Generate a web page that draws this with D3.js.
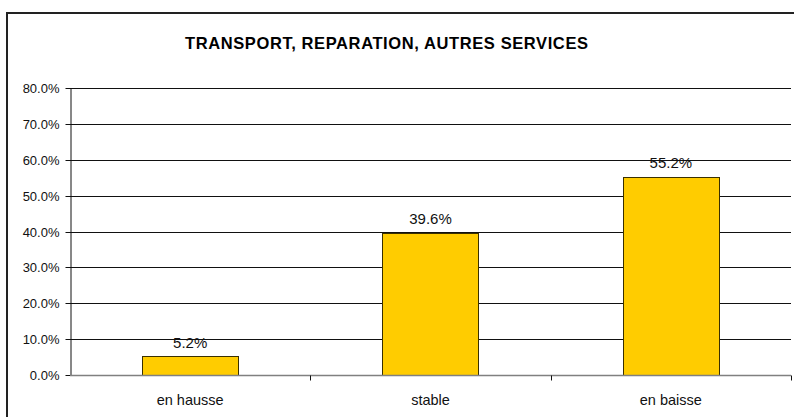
<!DOCTYPE html>
<html><head><meta charset="utf-8">
<script src="https://cdn.jsdelivr.net/npm/d3@7"></script>
<style>body{margin:0;background:#fff}svg{display:block}text{font-family:"Liberation Sans",Arial,sans-serif}</style>
</head><body><svg id="c" width="794" height="417"></svg>
<script>
const categories = ["en hausse", "stable", "en baisse"];
const values = [5.2, 39.6, 55.2];
const yTicks = [0, 10, 20, 30, 40, 50, 60, 70, 80];
const title = "TRANSPORT, REPARATION, AUTRES SERVICES";

const svg = d3.select("#c");
svg.append("rect").attr("x", 7).attr("y", 13).attr("width", 820).attr("height", 440)
  .attr("fill", "#fff").attr("stroke", "#222").attr("stroke-width", 2);

const m = {left: 70, right: 791, top: 88, bottom: 375};
const x = d3.scaleBand().domain(categories).range([m.left, m.right]).paddingInner(0.6).paddingOuter(0.3);
const y = d3.scaleLinear().domain([0, 80]).range([m.bottom, m.top]);

svg.append("text").attr("x", 386.5).attr("y", 49).attr("text-anchor", "middle")
  .attr("font-size", 16.5).attr("font-weight", "bold").attr("fill", "#000")
  .attr("textLength", 403).attr("lengthAdjust", "spacing").text(title);

// gridlines
svg.append("g").selectAll("line").data(yTicks.filter(d => d > 0)).join("line")
  .attr("x1", m.left).attr("x2", m.right).attr("y1", d => Math.round(y(d)) + 0.5).attr("y2", d => Math.round(y(d)) + 0.5)
  .attr("stroke", "#111").attr("stroke-width", 1);

// y axis
const ya = svg.append("g").attr("transform", `translate(${m.left + 0.5},0)`)
  .call(d3.axisLeft(y).tickValues(yTicks).tickFormat(d => d.toFixed(1) + "%").tickSize(5).tickSizeOuter(0));
ya.select(".domain").attr("stroke", "#111");
ya.selectAll(".tick line").attr("stroke", "#111");
ya.selectAll(".tick text").attr("font-size", 13).attr("fill", "#111").attr("x", -11)
  .style("font-family", "'Liberation Sans', Arial, sans-serif");
ya.selectAll(".tick").attr("transform", d => `translate(0,${Math.round(y(d)) + 0.5})`);

// bars
svg.append("g").selectAll("rect").data(values).join("rect")
  .attr("x", (d, i) => Math.round(x(categories[i])) + 0.5)
  .attr("y", d => Math.round(y(d)) + 0.5)
  .attr("width", Math.round(x.bandwidth()))
  .attr("height", d => Math.round(y(0)) - Math.round(y(d)))
  .attr("fill", "#FFCC00").attr("stroke", "#3a3000").attr("stroke-width", 1);

// x axis
const xs = d3.scaleLinear().domain([0, 3]).range([m.left, m.right]);
const xa = svg.append("g").attr("transform", `translate(0,${Math.round(y(0)) + 0.5})`);
xa.append("line").attr("x1", m.left).attr("x2", m.right).attr("stroke", "#808080").attr("stroke-width", 1.5);
xa.selectAll("line.t").data([1, 2, 3]).join("line").attr("class", "t")
  .attr("x1", d => Math.round(xs(d)) + 0.5).attr("x2", d => Math.round(xs(d)) + 0.5)
  .attr("y1", 0).attr("y2", 5).attr("stroke", "#111");
xa.selectAll("text").data(categories).join("text")
  .attr("x", d => x(d) + x.bandwidth() / 2).attr("y", 29).attr("text-anchor", "middle")
  .attr("font-size", 14.5).attr("fill", "#111").text(d => d);

// data labels
svg.append("g").selectAll("text").data(values).join("text")
  .attr("x", (d, i) => x(categories[i]) + x.bandwidth() / 2)
  .attr("y", d => y(d) - 8.5).attr("text-anchor", "middle")
  .attr("font-size", 15).attr("fill", "#111").text(d => d.toFixed(1) + "%");
</script></body></html>
